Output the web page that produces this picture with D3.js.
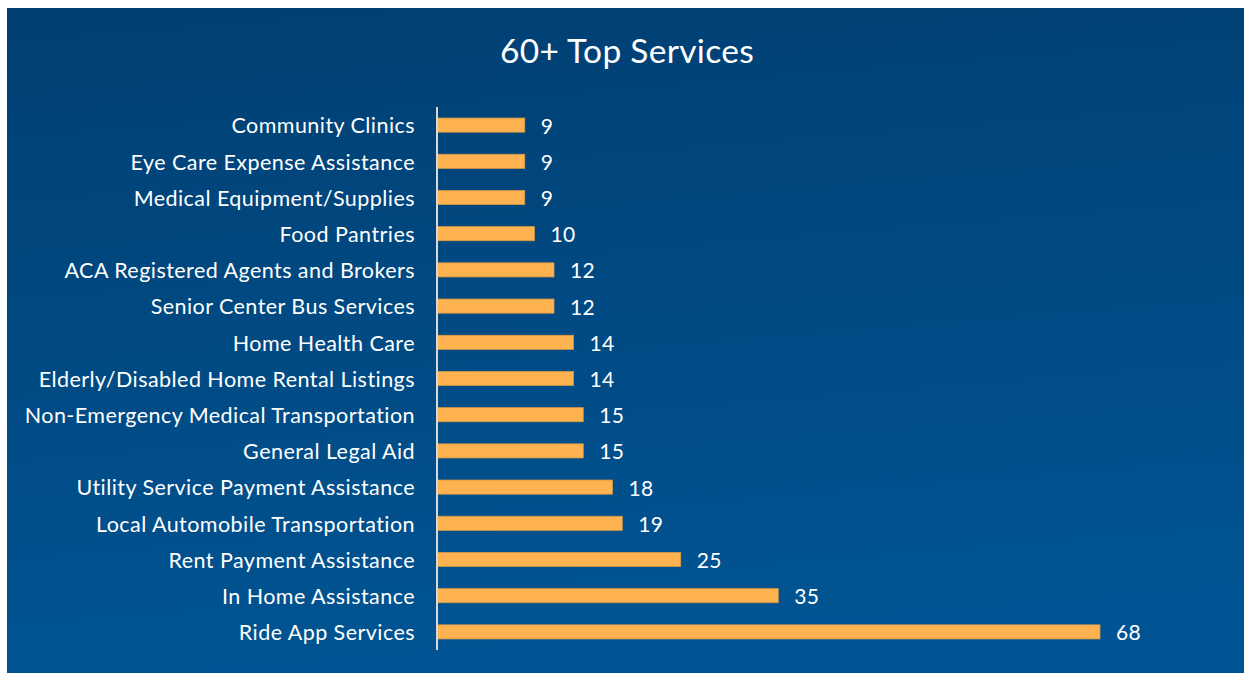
<!DOCTYPE html>
<html>
<head>
<meta charset="utf-8">
<script src="https://cdn.jsdelivr.net/npm/d3@7"></script>
<style>
  html, body { margin: 0; padding: 0; background: #ffffff; }
  svg { display: block; }
</style>
</head>
<body>
<svg id="chart" width="1244" height="673"></svg>
<script>
// Service names, top to bottom, and the count for each
const categories = [
  "Community Clinics",
  "Eye Care Expense Assistance",
  "Medical Equipment/Supplies",
  "Food Pantries",
  "ACA Registered Agents and Brokers",
  "Senior Center Bus Services",
  "Home Health Care",
  "Elderly/Disabled Home Rental Listings",
  "Non-Emergency Medical Transportation",
  "General Legal Aid",
  "Utility Service Payment Assistance",
  "Local Automobile Transportation",
  "Rent Payment Assistance",
  "In Home Assistance",
  "Ride App Services"
];
const counts = [9, 9, 9, 10, 12, 12, 14, 14, 15, 15, 18, 19, 25, 35, 68];
const title = "60+ Top Services";

const W = 1244, H = 673;
const font = "Lato, 'Open Sans', sans-serif";
const svg = d3.select("#chart");

// Background panel with a soft blue gradient
const defs = svg.append("defs");
const grad = defs.append("linearGradient")
  .attr("id", "bg").attr("x1", "0").attr("y1", "0").attr("x2", "0.15").attr("y2", "1");
grad.append("stop").attr("offset", "0%").attr("stop-color", "#003f72");
grad.append("stop").attr("offset", "100%").attr("stop-color", "#015493");
svg.append("rect")
  .attr("x", 7).attr("y", 8).attr("width", W - 7).attr("height", H - 8)
  .attr("fill", "url(#bg)");

// Title
svg.append("text")
  .attr("x", 627).attr("y", 63)
  .attr("text-anchor", "middle")
  .attr("font-family", font).attr("font-size", 33.5)
  .attr("letter-spacing", 0.3)
  .attr("fill", "#ffffff")
  .text(title);

const data = categories.map((c, i) => ({ name: c, value: counts[i] }));

const x0 = 437;
const x = d3.scaleLinear().domain([0, 68]).range([x0, 1100]);
const y = d3.scaleBand().domain(categories).range([107, 650]).paddingInner(0.61).paddingOuter(0.305);

// Bars
svg.append("g").selectAll("rect")
  .data(data).join("rect")
  .attr("x", x(0))
  .attr("y", d => y(d.name))
  .attr("width", d => x(d.value) - x(0))
  .attr("height", y.bandwidth())
  .attr("fill", "#ffb350")
  .attr("stroke", "#d99a45")
  .attr("stroke-width", 0.75);

// Category axis: a plain vertical line with labels to its left
const yAxis = d3.axisLeft(y).tickSize(0).tickPadding(22);
const ga = svg.append("g").attr("transform", `translate(${x0},1.5)`).call(yAxis);
ga.select(".domain").remove();
ga.selectAll("text")
  .attr("font-family", font).attr("font-size", 21.5)
  .attr("letter-spacing", 0.45)
  .attr("fill", "#ffffff");
svg.append("line")
  .attr("x1", x0).attr("x2", x0)
  .attr("y1", 107).attr("y2", 650)
  .attr("stroke", "#d9d9d9").attr("stroke-width", 2);

// Value labels at the end of each bar
svg.append("g").selectAll("text")
  .data(data).join("text")
  .attr("x", d => x(d.value) + 16)
  .attr("y", d => y(d.name) + y.bandwidth() / 2 + 1)
  .attr("dy", "0.36em")
  .attr("font-family", font).attr("font-size", 21)
  .attr("letter-spacing", 0.3)
  .attr("fill", "#ffffff")
  .text(d => d.value);
</script>
</body>
</html>
